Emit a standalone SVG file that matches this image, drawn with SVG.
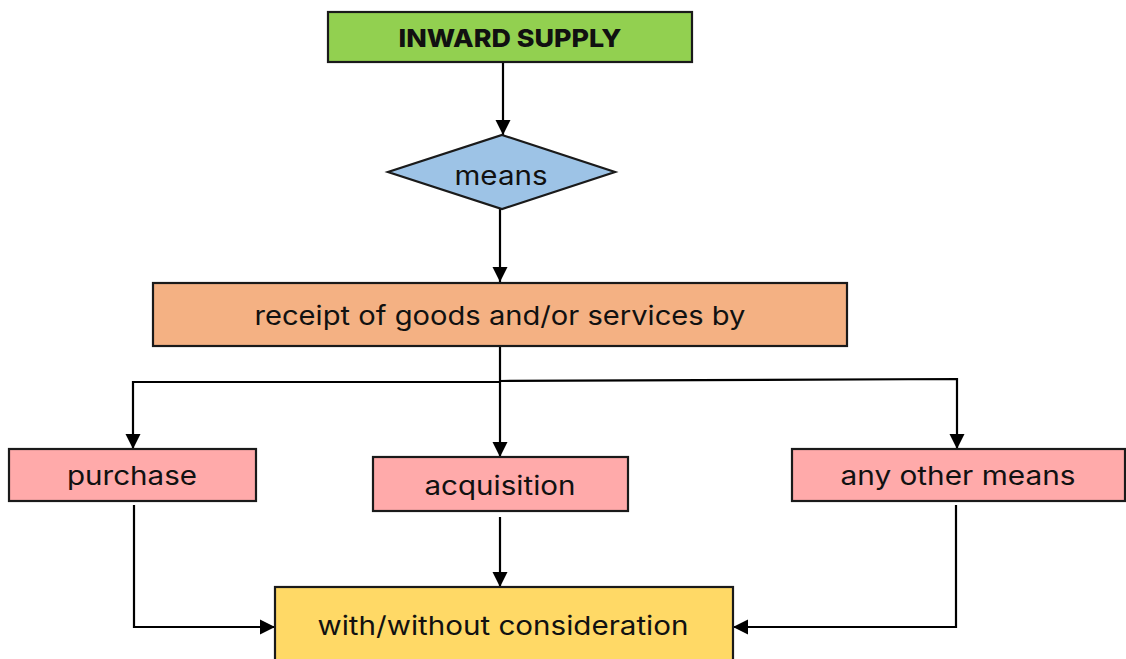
<svg xmlns="http://www.w3.org/2000/svg" width="1126" height="659" viewBox="0 0 1126 659">
<defs>
<marker id="arr" markerUnits="userSpaceOnUse" markerWidth="16" markerHeight="16" viewBox="0 0 16 16" refX="15" refY="8" orient="auto">
<path d="M0,0.5 L15,8 L0,15.5 Z" fill="#000"/>
</marker>
<style>
.box{stroke:#1a1a1a;stroke-width:2.2}
.t{font-family:Inter,"Noto Sans","Liberation Sans",sans-serif;font-size:26px;fill:#111;text-anchor:middle}
.b{font-weight:800;font-size:25px}
.c{fill:none;stroke:#000;stroke-width:2.2;marker-end:url(#arr)}
</style>
</defs>
<rect width="1126" height="659" fill="#fff"/>
<g id="connectors">
<path class="c" d="M503,62 V135"/>
<path class="c" d="M500,209 V282"/>
<path class="c" d="M500,346 V457"/>
<path class="c" d="M500,382 H133 V449"/>
<path class="c" d="M500,381 L957,379 V449"/>
<path class="c" d="M500,517 V587"/>
<path class="c" d="M134,505 V627 H275"/>
<path class="c" d="M956,505 V627 H733"/>
</g>
<g id="inward-supply">
<rect class="box" x="328" y="12" width="364" height="50" fill="#92D050"/>
<text class="t b" x="510" y="47" textLength="223" lengthAdjust="spacingAndGlyphs">INWARD SUPPLY</text>
</g>
<g id="means">
<polygon class="box" points="502,135 615,172 502,209 388,172" fill="#9DC3E6"/>
<text class="t" x="501" y="185" textLength="93" lengthAdjust="spacingAndGlyphs">means</text>
</g>
<g id="receipt">
<rect class="box" x="153" y="283" width="694" height="63" fill="#F4B183"/>
<text class="t" x="500" y="325" textLength="491" lengthAdjust="spacingAndGlyphs">receipt of goods and/or services by</text>
</g>
<g id="purchase">
<rect class="box" x="9" y="449" width="247" height="52" fill="#FFAAAA"/>
<text class="t" x="132" y="485" textLength="130" lengthAdjust="spacingAndGlyphs">purchase</text>
</g>
<g id="acquisition">
<rect class="box" x="373" y="457" width="255" height="54" fill="#FFAAAA"/>
<text class="t" x="500" y="495" textLength="151" lengthAdjust="spacingAndGlyphs">acquisition</text>
</g>
<g id="any-other-means">
<rect class="box" x="792" y="449" width="333" height="52" fill="#FFAAAA"/>
<text class="t" x="958" y="485" textLength="235" lengthAdjust="spacingAndGlyphs">any other means</text>
</g>
<g id="consideration">
<rect class="box" x="275" y="587" width="458" height="80" fill="#FFD966"/>
<text class="t" x="503" y="635" textLength="371" lengthAdjust="spacingAndGlyphs">with/without consideration</text>
</g>
</svg>
